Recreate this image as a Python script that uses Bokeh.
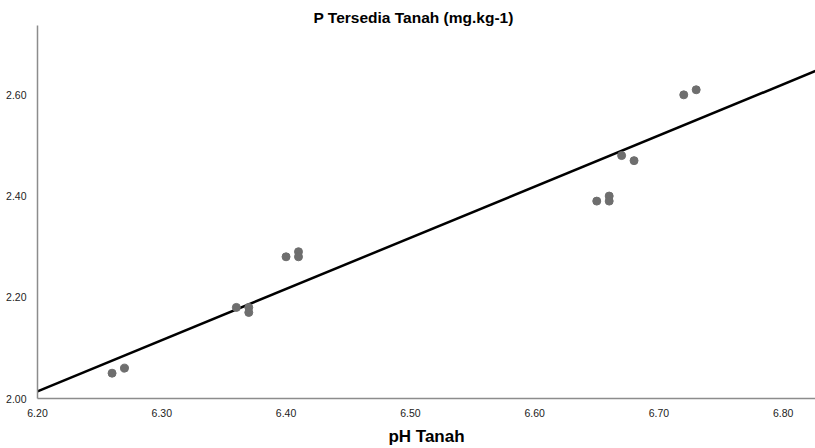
from bokeh.plotting import figure
from bokeh.models import Range1d, FixedTicker, NumeralTickFormatter
from bokeh.embed import file_html
from bokeh.resources import INLINE

# Data
ph_tanah = [6.26, 6.27, 6.36, 6.37, 6.37, 6.40, 6.41, 6.41,
            6.65, 6.66, 6.66, 6.67, 6.68, 6.72, 6.73]
p_tersedia = [2.05, 2.06, 2.18, 2.18, 2.17, 2.28, 2.29, 2.28,
              2.39, 2.40, 2.39, 2.48, 2.47, 2.60, 2.61]
x_ticks = [6.2, 6.3, 6.4, 6.5, 6.6, 6.7, 6.8]
y_ticks = [2.0, 2.2, 2.4, 2.6]

# Fit line as drawn in the reference
fit_intercept = -4.254
fit_slope = 1.011

x_min, x_max = 6.20, 6.826
y_min, y_max = 2.00, 2.737

p = figure(width=815, height=448, output_backend="svg", toolbar_location=None,
           x_range=Range1d(x_min, x_max), y_range=Range1d(y_min, y_max),
           title="P Tersedia Tanah (mg.kg-1)",
           min_border_left=37, min_border_right=0, min_border_top=25, min_border_bottom=49)

p.title.align = "left"
p.title.text_font = "Liberation Sans"
p.title.text_font_size = "15.5px"
p.title.text_font_style = "bold"
p.title.text_color = "#000000"
p.title.offset = 276
p.title.standoff = 0

p.outline_line_color = None
p.grid.grid_line_color = None
p.background_fill_color = "white"
p.border_fill_color = "white"

for ax in (p.xaxis[0], p.yaxis[0]):
    ax.axis_line_color = "#8c8c8c"
    ax.axis_line_width = 1.5
    ax.major_tick_line_color = None
    ax.minor_tick_line_color = None
    ax.major_label_text_font = "Liberation Sans"
    ax.major_label_text_font_size = "10.5px"
    ax.major_label_text_color = "#222222"
    ax.formatter = NumeralTickFormatter(format="0.00")

p.xaxis.ticker = FixedTicker(ticks=x_ticks)
p.yaxis.ticker = FixedTicker(ticks=y_ticks)
p.xaxis.major_label_standoff = 4
p.yaxis.major_label_standoff = 5

p.xaxis.axis_label = "pH Tanah"
p.xaxis.axis_label_text_font = "Liberation Sans"
p.xaxis.axis_label_text_font_size = "17px"
p.xaxis.axis_label_text_font_style = "bold"
p.xaxis.axis_label_text_color = "#000000"
p.xaxis.axis_label_standoff = 7

fx = [x_min, x_max]
fy = [fit_intercept + fit_slope * v for v in fx]
p.line(fx, fy, line_color="black", line_width=2.5)

p.scatter(ph_tanah, p_tersedia, size=8, fill_color="#6e6e6e", line_color="#6e6e6e")

open("out.html", "w").write(file_html(p, INLINE))
